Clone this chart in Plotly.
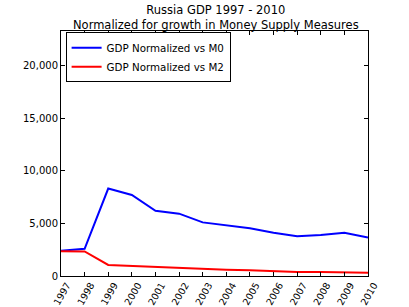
import plotly.graph_objects as go

years = [str(y) for y in range(1997, 2011)]
gdp_vs_m0 = [2390, 2580, 8320, 7710, 6200, 5930, 5100, 4840, 4550, 4110, 3790, 3890, 4110, 3660]
gdp_vs_m2 = [2360, 2330, 1050, 960, 830, 760, 640, 600, 540, 450, 380, 390, 380, 320]
y_ticks = [0, 5000, 10000, 15000, 20000]
y_tick_labels = ["0", "5,000", "10,000", "15,000", "20,000"]
title_lines = ["Russia GDP 1997 - 2010", "Normalized for growth in Money Supply Measures"]

fig = go.Figure()
fig.add_trace(go.Scatter(x=list(range(len(years))), y=gdp_vs_m0, mode="lines",
                         name="GDP Normalized vs M0", line=dict(color="#0000ff", width=2)))
fig.add_trace(go.Scatter(x=list(range(len(years))), y=gdp_vs_m2, mode="lines",
                         name="GDP Normalized vs M2", line=dict(color="#ff0000", width=2)))

fig.add_annotation(text="<br>".join(title_lines), xref="paper", yref="paper",
                   x=0.505, y=1, xanchor="center", yanchor="bottom", yshift=-3,
                   showarrow=False, font=dict(size=11.5))

fig.update_layout(
    width=409, height=307,
    margin=dict(l=61, r=41, t=31, b=31, autoexpand=False),
    paper_bgcolor="white", plot_bgcolor="white",
    font=dict(family="DejaVu Sans", size=10, color="black"),
    showlegend=True,
    legend=dict(x=0.015, y=0.995, xanchor="left", yanchor="top",
                bordercolor="black", borderwidth=1, bgcolor="white",
                font=dict(size=10.3), itemwidth=30, tracegroupgap=0),
    xaxis=dict(range=[0, len(years) - 1], tickmode="array", automargin=False,
               tickvals=list(range(len(years))), ticktext=years, tickangle=-60,
               tickfont=dict(size=9.5), ticklabelshift=6, ticklabelstandoff=-1,
               showgrid=False, zeroline=False, showline=True, linecolor="black",
               linewidth=1, mirror="ticks", ticks="inside", ticklen=4,
               tickcolor="black"),
    yaxis=dict(range=[0, 23300], tickmode="array", tickvals=y_ticks, automargin=False,
               ticktext=y_tick_labels, showgrid=False, zeroline=False,
               showline=True, linecolor="black", linewidth=1, mirror="ticks",
               ticks="inside", ticklen=4, tickcolor="black"),
)

fig.write_html("out.html", config={"displayModeBar": False},
               post_script="document.body.style.margin='0';document.body.style.overflow='hidden';")
